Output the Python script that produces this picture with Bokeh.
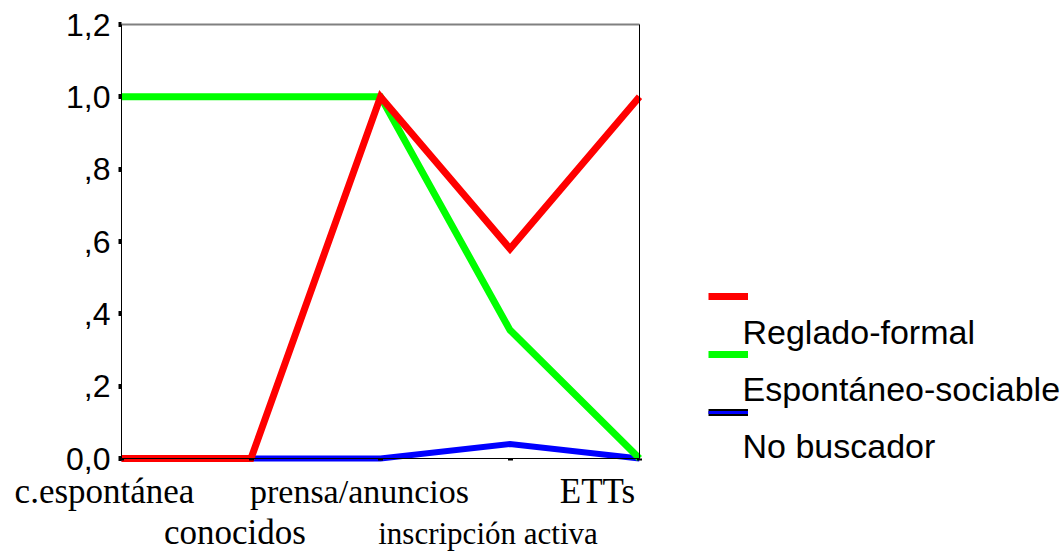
from bokeh.plotting import figure
from bokeh.models import (Range1d, FixedTicker, Label, Legend, LegendItem, LinearAxis)
from bokeh.embed import file_html
from bokeh.resources import INLINE

# ---- data ----
categories = ["c.espontánea", "conocidos", "prensa/anuncios", "inscripción activa", "ETTs"]
reglado_formal = [0.0, 0.0, 1.0, 0.58, 1.0]
espontaneo_sociable = [1.0, 1.0, 1.0, 0.355, 0.0]
no_buscador = [0.0, 0.0, 0.0, 0.04, 0.0]
series_names = ["Reglado-formal", "Espontáneo-sociable", "No buscador"]
y_ticks = [0.0, 0.2, 0.4, 0.6, 0.8, 1.0, 1.2]
y_tick_labels = ["0,0", ",2", ",4", ",6", ",8", "1,0", "1,2"]

xs = list(range(len(categories)))

# ---- layout (pixels) ----
W, H = 1064, 551
BOX_L, BOX_R, BOX_T, BOX_B = 121, 639, 24, 458
x_lo, x_hi = 0, len(categories) - 1
y_lo, y_hi = 0.0, 1.2
ppx = (BOX_R - BOX_L) / (x_hi - x_lo)
ppy = (BOX_B - BOX_T) / (y_hi - y_lo)
x_range = Range1d(x_lo - BOX_L / ppx, x_hi + (W - BOX_R) / ppx)
y_range = Range1d(y_lo - (H - BOX_B) / ppy, y_hi + BOX_T / ppy)

p = figure(width=W, height=H, output_backend="svg", toolbar_location=None,
           x_range=x_range, y_range=y_range,
           x_axis_location=None, y_axis_location=None,
           min_border=0, min_border_left=0, min_border_right=0,
           min_border_top=0, min_border_bottom=0)
p.grid.visible = False
p.outline_line_color = None
p.background_fill_color = "white"
p.border_fill_color = "white"

# y axis
ya = LinearAxis(fixed_location=x_lo, bounds=(y_lo, y_hi),
                ticker=FixedTicker(ticks=y_ticks),
                major_label_overrides={t: l for t, l in zip(y_ticks, y_tick_labels)},
                major_label_text_font="Liberation Sans", major_label_text_font_size="32px",
                major_label_text_color="black", major_label_standoff=8,
                major_tick_in=0, major_tick_out=3, major_tick_line_width=5,
                minor_tick_line_color=None, axis_line_color="black", axis_line_width=1)
p.add_layout(ya, "left")

# x axis (ticks only; category names drawn as labels below)
xa = LinearAxis(fixed_location=y_lo, bounds=(x_lo, x_hi),
                ticker=FixedTicker(ticks=xs),
                major_label_overrides={i: "" for i in xs},
                major_label_text_alpha=0,
                major_tick_in=0, major_tick_out=2, major_tick_line_width=5,
                minor_tick_line_color=None, axis_line_color="black", axis_line_width=1)
p.add_layout(xa, "below")

# box edges (right, top)
ra = LinearAxis(fixed_location=x_hi, bounds=(y_lo, y_hi), ticker=FixedTicker(ticks=[]),
                major_tick_line_color=None, minor_tick_line_color=None,
                axis_line_color="black", axis_line_width=1)
p.add_layout(ra, "right")
ta = LinearAxis(fixed_location=y_hi, bounds=(x_lo, x_hi), ticker=FixedTicker(ticks=[]),
                major_tick_line_color=None, minor_tick_line_color=None,
                axis_line_color="#808080", axis_line_width=2)
p.add_layout(ta, "above")

# lines
r_blue = p.line(xs, no_buscador, line_color="#0000ff", line_width=6, line_join="miter")
r_green = p.line(xs, espontaneo_sociable, line_color="#00ff00", line_width=7, line_join="miter")
r_red = p.line(xs, reglado_formal, line_color="#ff0000", line_width=7, line_join="miter")

# legend swatch for the outlined blue key (hidden in the plot itself)
leg_black = p.line(xs, no_buscador, line_color="black", line_width=7, visible=False)
leg_blue = p.line(xs, no_buscador, line_color="#0000ff", line_width=3, visible=False)

legend = Legend(items=[LegendItem(label="", renderers=[r_red]),
                       LegendItem(label="", renderers=[r_green]),
                       LegendItem(label="", renderers=[leg_black, leg_blue])],
                location=(708, H - 292 - 124), orientation="vertical",
                glyph_width=40, glyph_height=8, label_height=8, label_width=0,
                label_standoff=0, spacing=50, padding=0, margin=0,
                border_line_color=None, background_fill_alpha=0,
                inactive_fill_alpha=0,
                label_text_font_size="8px")
p.add_layout(legend, "center")

# legend texts
leg_offsets = [127, 70, 13]
for name, off in zip(series_names, leg_offsets):
    p.add_layout(Label(x=x_hi, y=y_lo, x_offset=103, y_offset=off, text=name,
                       text_align="left", text_baseline="middle",
                       text_font="Liberation Sans", text_font_size="34px", text_color="black"))

# category labels (staggered in two rows)
cat_x_shift = [-17, -16, -21, -22, -42]
cat_y_shift = [-33, -74, -33, -75, -33]
cat_font_px = [35, 35, 34, 31, 35]
for i, (c, dx, dy, fs) in enumerate(zip(categories, cat_x_shift, cat_y_shift, cat_font_px)):
    p.add_layout(Label(x=xs[i], y=y_lo, x_offset=dx, y_offset=dy, text=c,
                       text_align="center", text_baseline="middle",
                       text_font="Liberation Serif", text_font_size=f"{fs}px", text_color="black"))

open("out.html", "w").write(file_html(p, INLINE))
